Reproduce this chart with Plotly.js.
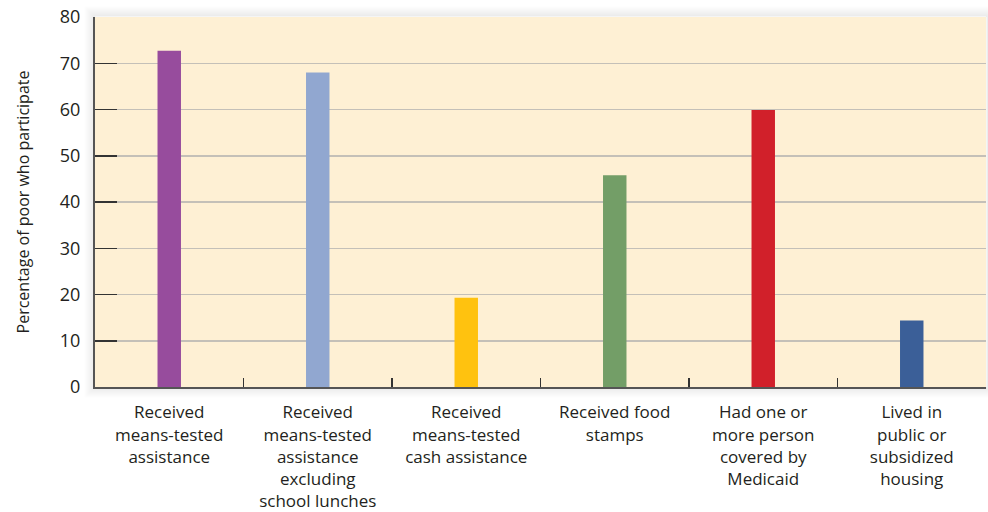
<!DOCTYPE html>
<html>
<head>
<meta charset="utf-8">
<script src="https://cdn.plot.ly/plotly-3.0.1.min.js"></script>
<style>html,body{margin:0;padding:0;background:#fff;}#chart{width:988px;height:512px;}</style>
</head>
<body>
<div id="chart"></div>
<script>
const categories = [
  "Received<br>means-tested<br>assistance",
  "Received<br>means-tested<br>assistance<br>excluding<br>school lunches",
  "Received<br>means-tested<br>cash assistance",
  "Received food<br>stamps",
  "Had one or<br>more person<br>covered by<br>Medicaid",
  "Lived in<br>public or<br>subsidized<br>housing"
];
const values = [72.7, 68.0, 19.3, 45.8, 59.9, 14.4];
const barColors = ["#974C9D", "#91A7D0", "#FFC20F", "#739E67", "#D1202A", "#3B5F98"];
const yTicks = [0, 10, 20, 30, 40, 50, 60, 70, 80];

const W = 891, H = 370;
const shadow = [];
for (let k = 1; k <= 10; k++) {
  shadow.push({
    type: "rect", xref: "paper", yref: "paper", layer: "below",
    x0: -k / W, x1: 1 + k / W, y0: -k / H, y1: 1 + k / H,
    line: {color: "rgba(0,0,0," + (0.09 * (1 - k / 11)).toFixed(3) + ")", width: 1},
    fillcolor: "rgba(0,0,0,0)"
  });
}

const trace = {
  type: "bar",
  x: categories,
  y: values,
  marker: {color: barColors, line: {width: 0}},
  hoverinfo: "skip"
};

const fam = "Open Sans, Liberation Sans, sans-serif";
const font = {family: fam, size: 17, color: "#231f20"};

const layout = {
  width: 988, height: 512,
  margin: {l: 95, r: 2, t: 17, b: 125},
  paper_bgcolor: "#ffffff",
  plot_bgcolor: "#FEF0D4",
  bargap: 0.842,
  showlegend: false,
  font: font,
  shapes: shadow,
  xaxis: {
    type: "category",
    tickson: "boundaries",
    ticks: "inside",
    ticklen: 9,
    tickwidth: 1.5,
    tickcolor: "#333",
    showline: true,
    linecolor: "#555",
    linewidth: 2,
    showgrid: false,
    zeroline: false,
    tickfont: {family: fam, size: 17, color: "#231f20"},
    ticklabelstandoff: 9,
    fixedrange: true
  },
  yaxis: {
    range: [0, 80],
    tickvals: yTicks,
    ticktext: yTicks.map(String),
    ticks: "inside",
    ticklen: 22,
    tickwidth: 1.5,
    tickcolor: "#333",
    showline: true,
    linecolor: "#555",
    linewidth: 2,
    showgrid: true,
    gridcolor: "#C4C0B8",
    gridwidth: 1.5,
    zeroline: false,
    tickfont: {family: fam, size: 18, color: "#231f20"},
    ticklabelstandoff: 9,
    title: {text: "Percentage of poor who participate", font: {family: fam, size: 16, color: "#231f20"}, standoff: 26},
    fixedrange: true
  }
};

Plotly.newPlot("chart", [trace], layout, {displayModeBar: false, staticPlot: true});
</script>
</body>
</html>
